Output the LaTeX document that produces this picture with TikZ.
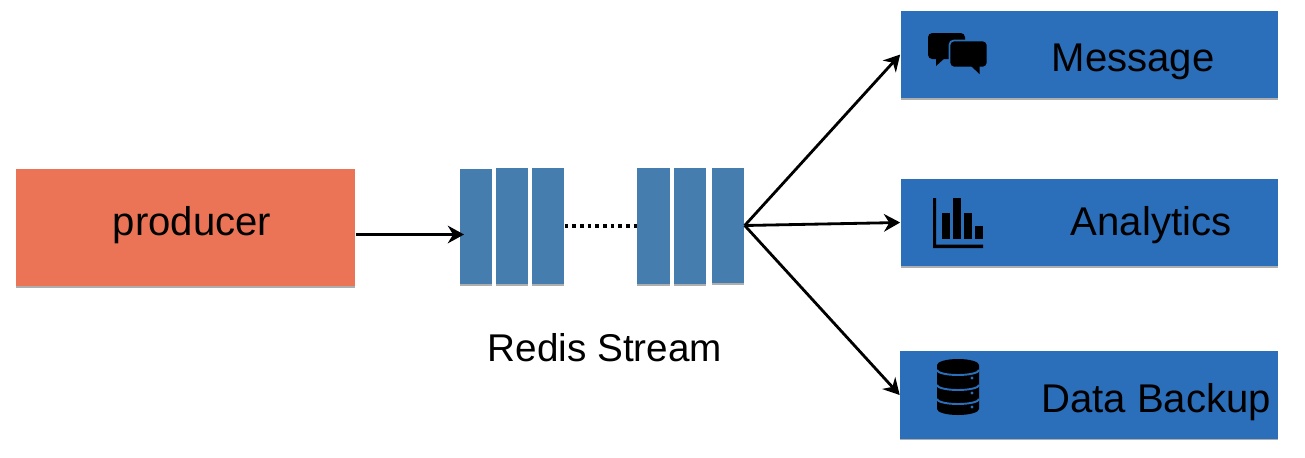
\documentclass[tikz,border=0pt]{standalone}
\usepackage{fontspec}
\setmainfont{Liberation Sans}
\usepackage{xcolor}
\usetikzlibrary{shadows,arrows.meta}
\definecolor{prodorange}{HTML}{EC7456}
\definecolor{queueblue}{HTML}{447DAE}
\definecolor{sinkblue}{HTML}{2B6EBA}
\tikzset{
  softshadow/.style={drop shadow={shadow xshift=0pt,shadow yshift=-0.5pt,opacity=0.45,fill=black!70}},
  producerbox/.style={fill=prodorange,minimum width=3.39cm,minimum height=1.17cm,inner sep=0pt,softshadow},
  sinkbox/.style={fill=sinkblue,minimum width=3.77cm,minimum height=0.87cm,inner sep=0pt,softshadow},
  cell/.style={fill=queueblue,minimum width=0.32cm,minimum height=1.155cm,inner sep=0pt,softshadow},
  caption/.style={font=\fontsize{11.4}{13}\selectfont,inner sep=0pt,text=black},
  link/.style={-{Stealth[length=4.6pt,width=5pt]},line width=0.8pt}
}
\begin{document}
\begin{tikzpicture}[x=0.01cm,y=-0.01cm]
  % Fix the page to the size of the picture
  \useasboundingbox (0,0) rectangle (1305,457);

  % Producer and the three consumers
  \node[producerbox] (producer) at (185.5,227.5) {};
  \node[sinkbox] (message) at (1089.5,54.5) {};
  \node[sinkbox] (analytics) at (1089.5,222.5) {};
  \node[sinkbox] (backup) at (1089,395) {};

  \node[caption] (producertext) at (192,225) {producer};
  \node[caption] (messagetext) at (1133,62) {Message};
  \node[caption] (analyticstext) at (1151,225) {Analytics};
  \node[caption] (backuptext) at (1156,402) {Data Backup};
  \node[caption,font=\fontsize{11}{13}\selectfont] (streamtext) at (605,348) {Redis Stream};

  % Stream cells
  \foreach \name/\xpos/\ypos in {q1/476/226.5, q2/512/226, q3/548/226, q4/653.5/226, q5/690/226, q6/728/225.5}
    \node[cell] (\name) at (\xpos,\ypos) {};

  % Connectors
  \coordinate (qin) at (464,234.5);
  \draw[link] (producer.east |- qin) -- (qin);
  \draw[line width=1pt,dash pattern=on 1pt off 1.18pt] (q3.east) -- (q4.west);
  \draw[link] (q6.east) -- (message.west);
  \draw[link] (q6.east) -- (analytics.west);
  \draw[link] (q6.east) -- (backup.west);

  % Message icon
  \fill[black,rounded corners=1.2pt] (928,33) rectangle (965,59);
  \fill[black] (936,57) -- (936,66) -- (946,57) -- cycle;
  \fill[black,rounded corners=1.2pt,draw=sinkblue,line width=0.5pt] (949.5,40.5) rectangle (987.5,67.5);
  \fill[black] (971,66) -- (979.5,74) -- (979.5,66) -- cycle;

  % Analytics icon
  \fill[black] (933,198) rectangle (936,248) (933,244.5) rectangle (983,248);
  \foreach \xpos/\ytop in {942/213, 953/198, 964/213, 975/226}
    \fill[black] (\xpos,\ytop) rectangle (\xpos+8,239);

  % Database icon
  \fill[black] (937,365) arc[start angle=180,end angle=360,x radius=21,y radius=6]
    -- (979,409) arc[start angle=0,end angle=180,x radius=21,y radius=6] -- cycle;
  \foreach \ypos in {370,385,399}
    \draw[sinkblue,line width=0.55pt] (937,\ypos) arc[start angle=180,end angle=0,x radius=21,y radius=5];
  \foreach \ypos in {378,393,407}
    \fill[sinkblue] (972,\ypos) circle (1.6);
\end{tikzpicture}
\end{document}
